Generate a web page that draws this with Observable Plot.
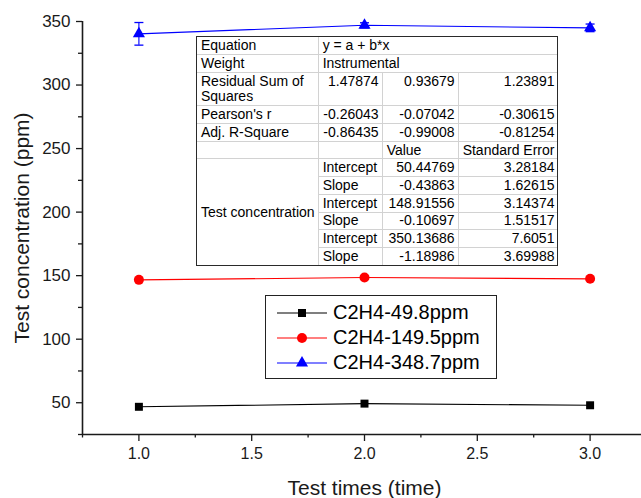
<!DOCTYPE html>
<html>
<head>
<meta charset="utf-8">
<script src="https://cdn.jsdelivr.net/npm/d3@7"></script>
<script src="https://cdn.jsdelivr.net/npm/@observablehq/plot@0.6"></script>
<style>
  html, body { margin: 0; padding: 0; background: #fff; }
  #wrap { position: relative; width: 641px; height: 498px; overflow: hidden; font-family: "Liberation Sans", Arial, sans-serif; }
  #wrap svg { display: block; }
  g[aria-label="y-axis label"] text, g[aria-label="y-axis label"] { font-size: 21px; }
  g[aria-label="x-axis label"] text, g[aria-label="x-axis label"] { font-size: 21px; }
  g[aria-label="y-axis tick label"] { font-size: 17px; }
  g[aria-label="x-axis tick label"] { font-size: 16px; }
  #tbl { position: absolute; left: 196px; top: 36px; border: 1.5px solid #2a2a2a; background: #fff; }
  #tbl table { border-collapse: collapse; border-style: hidden; table-layout: fixed; font-size: 14px; color: #000; }
  #tbl tr { height: 17.7px; }
  #tbl td { border: 1.5px solid #d2d2d2; padding: 0 3px 0 4px; height: 16px; line-height: 15px; white-space: nowrap; overflow: hidden; box-sizing: border-box; }
  #tbl td.num { text-align: right; }
  #tbl tr.two { height: 33.5px; }
  #tbl tr.two td { height: 32px; vertical-align: top; padding-top: 1px; }
  #tbl td.wrapcell { white-space: normal; line-height: 15.5px; }
  #leg { position: absolute; left: 265px; top: 295px; width: 230px; height: 78px; border: 1.5px solid #222; background: #fff; padding-top: 4px; box-sizing: content-box; }
  #leg .row { height: 25px; display: flex; align-items: center; font-size: 20px; }
  #leg svg { margin-left: 11px; margin-right: 6px; }
</style>
</head>
<body>
<div id="wrap"></div>
<script>
// ---- data ----
const times = [1, 2, 3];
const series = ["C2H4-49.8ppm", "C2H4-149.5ppm", "C2H4-348.7ppm"];
const conc49 = [46.8, 49.3, 48.0];
const conc149 = [146.7, 148.5, 147.5];
const conc348 = [340.3, 347.0, 345.0];
const err348 = [8.9, 2.0, 3.0];
const colors = ["#000000", "#ff0000", "#0000ff"];
const symbols = ["square", "circle", "triangle"];
const xTicks = [1.0, 1.5, 2.0, 2.5, 3.0];
const xMinor = [0.75, 1.25, 1.75, 2.25, 2.75, 3.25];
const yTicks = [50, 100, 150, 200, 250, 300, 350];
const yMinor = [25, 75, 125, 175, 225, 275, 325];

// fit table
const tblGeneral = [
  ["Equation", "y = a + b*x"],
  ["Weight", "Instrumental"]
];
const tblStatNames = ["Residual Sum of Squares", "Pearson's r", "Adj. R-Square"];
const tblStats = [
  ["1.47874", "0.93679", "1.23891"],
  ["-0.26043", "-0.07042", "-0.30615"],
  ["-0.86435", "-0.99008", "-0.81254"]
];
const tblHeader = ["Value", "Standard Error"];
const tblParamGroup = "Test concentration";
const tblParamNames = ["Intercept", "Slope", "Intercept", "Slope", "Intercept", "Slope"];
const tblValues = ["50.44769", "-0.43863", "148.91556", "-0.10697", "350.13686", "-1.18986"];
const tblErrors = ["3.28184", "1.62615", "3.14374", "1.51517", "7.6051", "3.69988"];

// ---- build data table ----
const allConc = [conc49, conc149, conc348];
const points = [];
series.forEach((s, i) => times.forEach((t, j) => points.push({series: s, time: t, value: allConc[i][j]})));
const errData = times.map((t, j) => ({time: t, lo: conc348[j] - err348[j], hi: conc348[j] + err348[j]}));

const capSymbol = {
  draw(ctx, size) {
    const r = Math.sqrt(size / Math.PI);
    ctx.moveTo(-r, 0);
    ctx.lineTo(r, 0);
  }
};

const rSizes = [4.5, 5, 4.5];

const chart = Plot.plot({
  width: 641,
  height: 498,
  marginLeft: 82,
  marginTop: 21,
  marginBottom: 64,
  marginRight: -5,
  x: {domain: [0.75, 3.25]},
  y: {domain: [25, 350]},
  color: {domain: series, range: colors},
  symbol: {domain: series, range: symbols},
  style: {fontFamily: "'Liberation Sans', Arial, sans-serif", color: "#1a1a1a", background: "#fff"},
  marks: [
    Plot.axisX({ticks: xMinor, tickSize: 3.5, text: null, label: null, strokeWidth: 1.3}),
    Plot.axisX({ticks: xTicks, tickFormat: d3.format(".1f"), tickSize: 7, tickPadding: 6, strokeWidth: 1.3,
      label: "Test times (time)", labelAnchor: "center", labelOffset: 60, labelArrow: false}),
    Plot.axisY({ticks: yMinor, tickSize: 4, text: null, label: null, strokeWidth: 1.3}),
    Plot.axisY({ticks: yTicks, tickSize: 6, tickPadding: 6, strokeWidth: 1.3,
      label: "Test concentration (ppm)", labelAnchor: "center", labelOffset: 68, labelArrow: false}),
    Plot.ruleX([0.75], {stroke: "#1a1a1a", strokeWidth: 1.6}),
    Plot.ruleY([25], {stroke: "#1a1a1a", strokeWidth: 1.6}),
    Plot.line(points, {x: "time", y: "value", z: "series", stroke: "series", strokeWidth: 1.1}),
    Plot.ruleX(errData, {x: "time", y1: "lo", y2: "hi", stroke: colors[2], strokeWidth: 1.1}),
    Plot.dot(errData, {x: "time", y: "lo", symbol: capSymbol, r: 4.5, stroke: colors[2], strokeWidth: 1.3}),
    Plot.dot(errData, {x: "time", y: "hi", symbol: capSymbol, r: 4.5, stroke: colors[2], strokeWidth: 1.3}),
    ...series.map((s, i) => Plot.dot(points.filter(d => d.series === s),
      {x: "time", y: "value", symbol: "series", fill: "series", r: rSizes[i], stroke: null}))
  ]
});

const wrap = document.getElementById("wrap");
wrap.appendChild(chart);

// ---- inset fit table ----
const tdiv = d3.select(wrap).append("div").attr("id", "tbl");
const table = tdiv.append("table");
const cg = table.append("colgroup");
[121, 64, 76, 99].forEach(w => cg.append("col").style("width", w + "px"));
tblGeneral.forEach(r => {
  const tr = table.append("tr");
  tr.append("td").text(r[0]);
  tr.append("td").attr("colspan", 3).text(r[1]);
});
tblStatNames.forEach((n, i) => {
  const tr = table.append("tr").attr("class", i === 0 ? "two" : null);
  tr.append("td").attr("class", i === 0 ? "wrapcell" : null).text(n);
  tblStats[i].forEach(v => tr.append("td").attr("class", "num").text(v));
});
{
  const tr = table.append("tr");
  tr.append("td");
  tr.append("td");
  tr.append("td").text(tblHeader[0]);
  tr.append("td").text(tblHeader[1]);
}
tblParamNames.forEach((p, i) => {
  const tr = table.append("tr");
  if (i === 0) tr.append("td").attr("rowspan", tblParamNames.length).text(tblParamGroup);
  tr.append("td").text(p);
  tr.append("td").attr("class", "num").text(tblValues[i]);
  tr.append("td").attr("class", "num").text(tblErrors[i]);
});

// ---- legend ----
const leg = d3.select(wrap).append("div").attr("id", "leg");
series.forEach((s, i) => {
  const row = leg.append("div").attr("class", "row");
  const svg = row.append("svg").attr("width", 50).attr("height", 20);
  svg.append("line").attr("x1", 0).attr("x2", 50).attr("y1", 10).attr("y2", 10)
    .attr("stroke", colors[i]).attr("stroke-width", 1.1);
  const symMap = {square: d3.symbolSquare, circle: d3.symbolCircle, triangle: d3.symbolTriangle};
  svg.append("path").attr("transform", "translate(25,10)")
    .attr("d", d3.symbol(symMap[symbols[i]], Math.PI * rSizes[i] * rSizes[i])())
    .attr("fill", colors[i]);
  row.append("span").text(s);
});
</script>
</body>
</html>
